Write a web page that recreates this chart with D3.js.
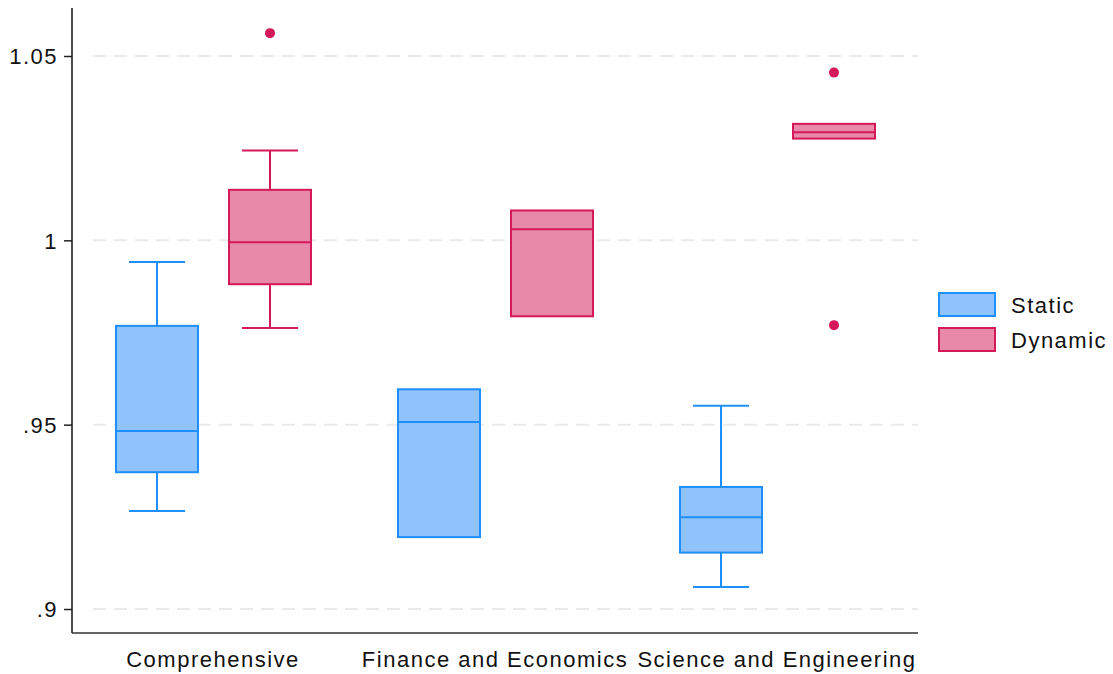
<!DOCTYPE html>
<html>
<head>
<meta charset="utf-8">
<script src="https://cdn.jsdelivr.net/npm/d3@7"></script>
<style>
  html, body { margin: 0; padding: 0; background: #fff; }
  svg text { font-family: "Liberation Sans", Arial, Helvetica, sans-serif; }
</style>
</head>
<body>
<svg id="chart" width="1113" height="674"></svg>
<script>
// Efficiency ratios by university type, static vs dynamic estimates
const categories = ["Comprehensive", "Finance and Economics", "Science and Engineering"];
const seriesNames = ["Static", "Dynamic"];

// Box statistics per series, one entry per category
const staticLo     = [0.9266, 0.9195, 0.9060];
const staticQ1     = [0.9371, 0.9195, 0.9153];
const staticMedian = [0.9483, 0.9507, 0.9249];
const staticQ3     = [0.9768, 0.9596, 0.9331];
const staticHi     = [0.9941, 0.9596, 0.9551];
const staticOut    = [[], [], []];

const dynamicLo     = [0.9762, 0.9794, 1.0276];
const dynamicQ1     = [0.9881, 0.9794, 1.0276];
const dynamicMedian = [0.9995, 1.0030, 1.0293];
const dynamicQ3     = [1.0137, 1.0081, 1.0316];
const dynamicHi     = [1.0244, 1.0081, 1.0316];
const dynamicOut    = [[1.0562], [], [1.0455, 0.9770]];

const yTicks = [0.9, 0.95, 1.0, 1.05];
const yTickLabels = [".9", ".95", "1", "1.05"];

const colors = {
  Static:  { stroke: "#1E8FFF", fill: "#90C3FC" },
  Dynamic: { stroke: "#D5185A", fill: "#E889A9" }
};

function buildSeries(name, lo, q1, med, q3, hi, out) {
  return categories.map((c, i) => ({
    category: c, series: name,
    lo: lo[i], q1: q1[i], median: med[i], q3: q3[i], hi: hi[i], outliers: out[i]
  }));
}
const boxes = [
  ...buildSeries("Static", staticLo, staticQ1, staticMedian, staticQ3, staticHi, staticOut),
  ...buildSeries("Dynamic", dynamicLo, dynamicQ1, dynamicMedian, dynamicQ3, dynamicHi, dynamicOut)
];

const svg = d3.select("#chart");
const plot = { left: 72, right: 918, top: 8, bottom: 633 };

const x = d3.scaleBand().domain(categories).range([plot.left, plot.right]).padding(0);
const xInner = d3.scaleBand().domain(seriesNames).range([44, 239]).paddingInner(31 / 113).paddingOuter(0);
const y = d3.scaleLinear().domain([0.89349, 1.06302]).range([plot.bottom, plot.top]);

const fontSize = 22;
const spacing = "1.5px";

// Horizontal dashed grid
svg.append("g").selectAll("line").data(yTicks).join("line")
  .attr("x1", plot.left + 21).attr("x2", plot.right)
  .attr("y1", d => y(d)).attr("y2", d => y(d))
  .attr("stroke", "#EAEAEA").attr("stroke-width", 2)
  .attr("stroke-dasharray", "13,8");

// Y axis
const yAxis = d3.axisLeft(y).tickValues(yTicks)
  .tickFormat((d, i) => yTickLabels[i]).tickSize(8).tickPadding(6);
const gy = svg.append("g").attr("transform", `translate(${plot.left},0)`).call(yAxis);
gy.select(".domain").remove();
gy.selectAll(".tick line").attr("stroke", "#222").attr("stroke-width", 1.5);
gy.selectAll(".tick text").attr("font-size", fontSize).attr("fill", "#111")
  .style("letter-spacing", spacing).attr("dy", "0.35em");
svg.append("line").attr("x1", plot.left).attr("x2", plot.left)
  .attr("y1", plot.top).attr("y2", plot.bottom)
  .attr("stroke", "#111").attr("stroke-width", 1.5);

// X axis
const xAxis = d3.axisBottom(x).tickSize(0).tickPadding(18);
const gx = svg.append("g").attr("transform", `translate(0,${plot.bottom})`).call(xAxis);
gx.select(".domain").remove();
gx.selectAll(".tick text").attr("font-size", fontSize).attr("fill", "#111")
  .style("letter-spacing", spacing);
svg.append("line").attr("x1", plot.left).attr("x2", plot.right)
  .attr("y1", plot.bottom).attr("y2", plot.bottom)
  .attr("stroke", "#333").attr("stroke-width", 1.5);

// Boxes
const boxW = xInner.bandwidth();
const capW = 56;
const g = svg.append("g");
boxes.forEach(b => {
  const x0 = x(b.category) + xInner(b.series);
  const cx = x0 + boxW / 2;
  const col = colors[b.series];
  const grp = g.append("g");
  if (b.hi > b.q3) {
    grp.append("line").attr("x1", cx).attr("x2", cx).attr("y1", y(b.hi)).attr("y2", y(b.q3))
      .attr("stroke", col.stroke).attr("stroke-width", 2);
    grp.append("line").attr("x1", cx - capW / 2).attr("x2", cx + capW / 2)
      .attr("y1", y(b.hi)).attr("y2", y(b.hi))
      .attr("stroke", col.stroke).attr("stroke-width", 2);
  }
  if (b.lo < b.q1) {
    grp.append("line").attr("x1", cx).attr("x2", cx).attr("y1", y(b.q1)).attr("y2", y(b.lo))
      .attr("stroke", col.stroke).attr("stroke-width", 2);
    grp.append("line").attr("x1", cx - capW / 2).attr("x2", cx + capW / 2)
      .attr("y1", y(b.lo)).attr("y2", y(b.lo))
      .attr("stroke", col.stroke).attr("stroke-width", 2);
  }
  grp.append("rect").attr("x", x0).attr("width", boxW)
    .attr("y", y(b.q3)).attr("height", y(b.q1) - y(b.q3))
    .attr("fill", col.fill).attr("stroke", col.stroke).attr("stroke-width", 2);
  grp.append("line").attr("x1", x0).attr("x2", x0 + boxW)
    .attr("y1", y(b.median)).attr("y2", y(b.median))
    .attr("stroke", col.stroke).attr("stroke-width", 2);
  grp.selectAll("circle").data(b.outliers).join("circle")
    .attr("cx", cx).attr("cy", d => y(d)).attr("r", 5)
    .attr("fill", col.stroke);
});

// Legend
const legend = svg.append("g").attr("transform", "translate(939,293)");
seriesNames.forEach((s, i) => {
  const row = legend.append("g").attr("transform", `translate(0,${i * 35})`);
  row.append("rect").attr("width", 56).attr("height", 23)
    .attr("fill", colors[s].fill).attr("stroke", colors[s].stroke).attr("stroke-width", 2);
  row.append("text").attr("x", 72).attr("y", 19.5).attr("font-size", fontSize)
    .attr("fill", "#111").style("letter-spacing", spacing).text(s);
});
</script>
</body>
</html>
